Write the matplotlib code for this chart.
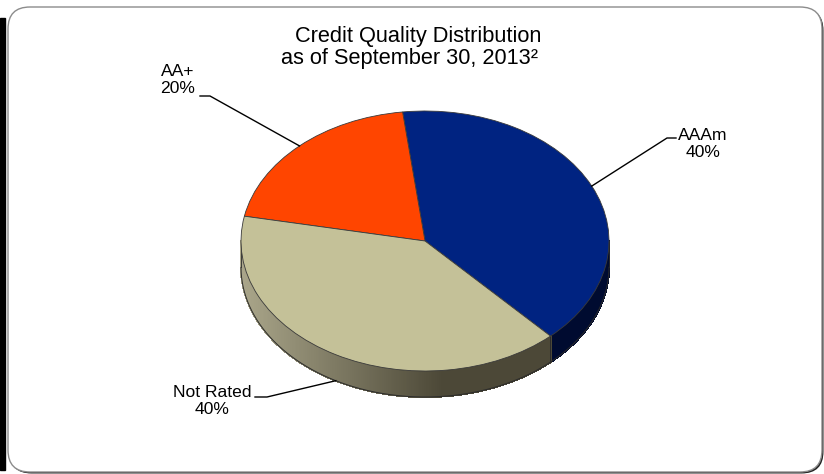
import numpy as np
import matplotlib
matplotlib.use("Agg")
import matplotlib.pyplot as plt
from matplotlib.patches import Wedge, FancyBboxPatch, Rectangle
from matplotlib.collections import PolyCollection
from matplotlib.transforms import Affine2D
from matplotlib.colors import to_rgb

# data
labels = ["AAAm", "AA+", "Not Rated"]
shares = [40, 20, 40]
top_colors = ["#002381", "#ff4500", "#c4c198"]
side_light = ["#00124a", "#c04000", "#aba78b"]
side_dark = ["#000b30", "#a03500", "#4c4837"]
title_lines = ["Credit Quality Distribution", "as of September 30, 2013\u00b2"]

plt.rcParams['font.family'] = ['Liberation Sans', 'DejaVu Sans']

fig = plt.figure(figsize=(8.24, 4.74), dpi=100)
ax = fig.add_axes([0, 0, 1, 1])
ax.set_xlim(0, 824)
ax.set_ylim(474, 0)
ax.axis('off')

# frame + shadows
ax.add_patch(Rectangle((0, 18), 5.5, 452, color='black', zorder=0))
ax.add_patch(FancyBboxPatch((9.5, 8.5), 814, 465, boxstyle="round,pad=0,rounding_size=22",
                            fc='#202020', ec='none', zorder=0))
ax.add_patch(FancyBboxPatch((8, 7), 814, 465, boxstyle="round,pad=0,rounding_size=22",
                            fc='white', ec='#8c8c8c', lw=1.0, zorder=1))

# pie geometry (pixels)
cx, cy, rx, ry, depth = 425, 241, 184, 130, 26
start = -47
angles = start + np.concatenate([[0], np.cumsum(shares)]) / sum(shares) * 360.0
ell = Affine2D().scale(rx, -ry).translate(cx, cy) + ax.transData


def pt(a, down=0.0):
    r = np.radians(a)
    return cx + rx * np.cos(r), cy - ry * np.sin(r) + down


# side band with horizontal gradient
for i in range(len(shares)):
    ts = np.linspace(angles[i], angles[i + 1], 400)
    front = np.sin(np.radians(ts)) <= 1e-9
    polys, cols = [], []
    lo, hi = np.array(to_rgb(side_light[i])), np.array(to_rgb(side_dark[i]))
    for a, b, fa, fb in zip(ts[:-1], ts[1:], front[:-1], front[1:]):
        if not (fa and fb):
            continue
        p1, p2 = pt(a), pt(b)
        polys.append([p1, p2, (p2[0], p2[1] + depth), (p1[0], p1[1] + depth)])
        f = (np.cos(np.radians((a + b) / 2)) + 1) / 2
        k = min(1.0, f / 0.55)
        cols.append(lo + (hi - lo) * k)
    if polys:
        ax.add_collection(PolyCollection(polys, facecolors=cols, edgecolors=cols,
                                         lw=0.8, antialiaseds=False, zorder=2))
        fr = ts[front]
        xs, ys = pt(fr, depth)
        ax.plot(xs, ys, color='#2b2b2b', lw=0.7, zorder=3)
        for a in (fr[0], fr[-1]):
            x0, y0 = pt(a)
            ax.plot([x0, x0], [y0, y0 + depth], color='#2b2b2b', lw=0.6, zorder=3)

# top face
for i in range(len(shares)):
    ax.add_patch(Wedge((0, 0), 1, angles[i], angles[i + 1], transform=ell,
                       fc=top_colors[i], ec='#3a3a3a', lw=0.6, zorder=4))

# leader lines + labels
elbows = [((667, 138), (676, 138)), ((210, 96), (200, 96)), ((267, 397), (255, 397))]
text_pos = [(703, 144), (178, 80), (212, 401)]
for i in range(len(shares)):
    mid = (angles[i] + angles[i + 1]) / 2
    down = depth if np.sin(np.radians(mid)) < 0 else 0
    ax0, ay0 = pt(mid, down)
    (ex, ey), (fx, fy) = elbows[i]
    ax.plot([ax0, ex, fx], [ay0, ey, fy], color='black', lw=1.0, zorder=5)
    ax.text(text_pos[i][0], text_pos[i][1], f"{labels[i]}\n{shares[i]}%",
            ha='center', va='center', fontsize=12.6, linespacing=1.2, zorder=6)

ax.text(418, 36, title_lines[0], ha='center', va='center', fontsize=15.7, zorder=6)
ax.text(410, 58, title_lines[1], ha='center', va='center', fontsize=15.7, zorder=6)

fig.savefig("out.png", dpi=100)
